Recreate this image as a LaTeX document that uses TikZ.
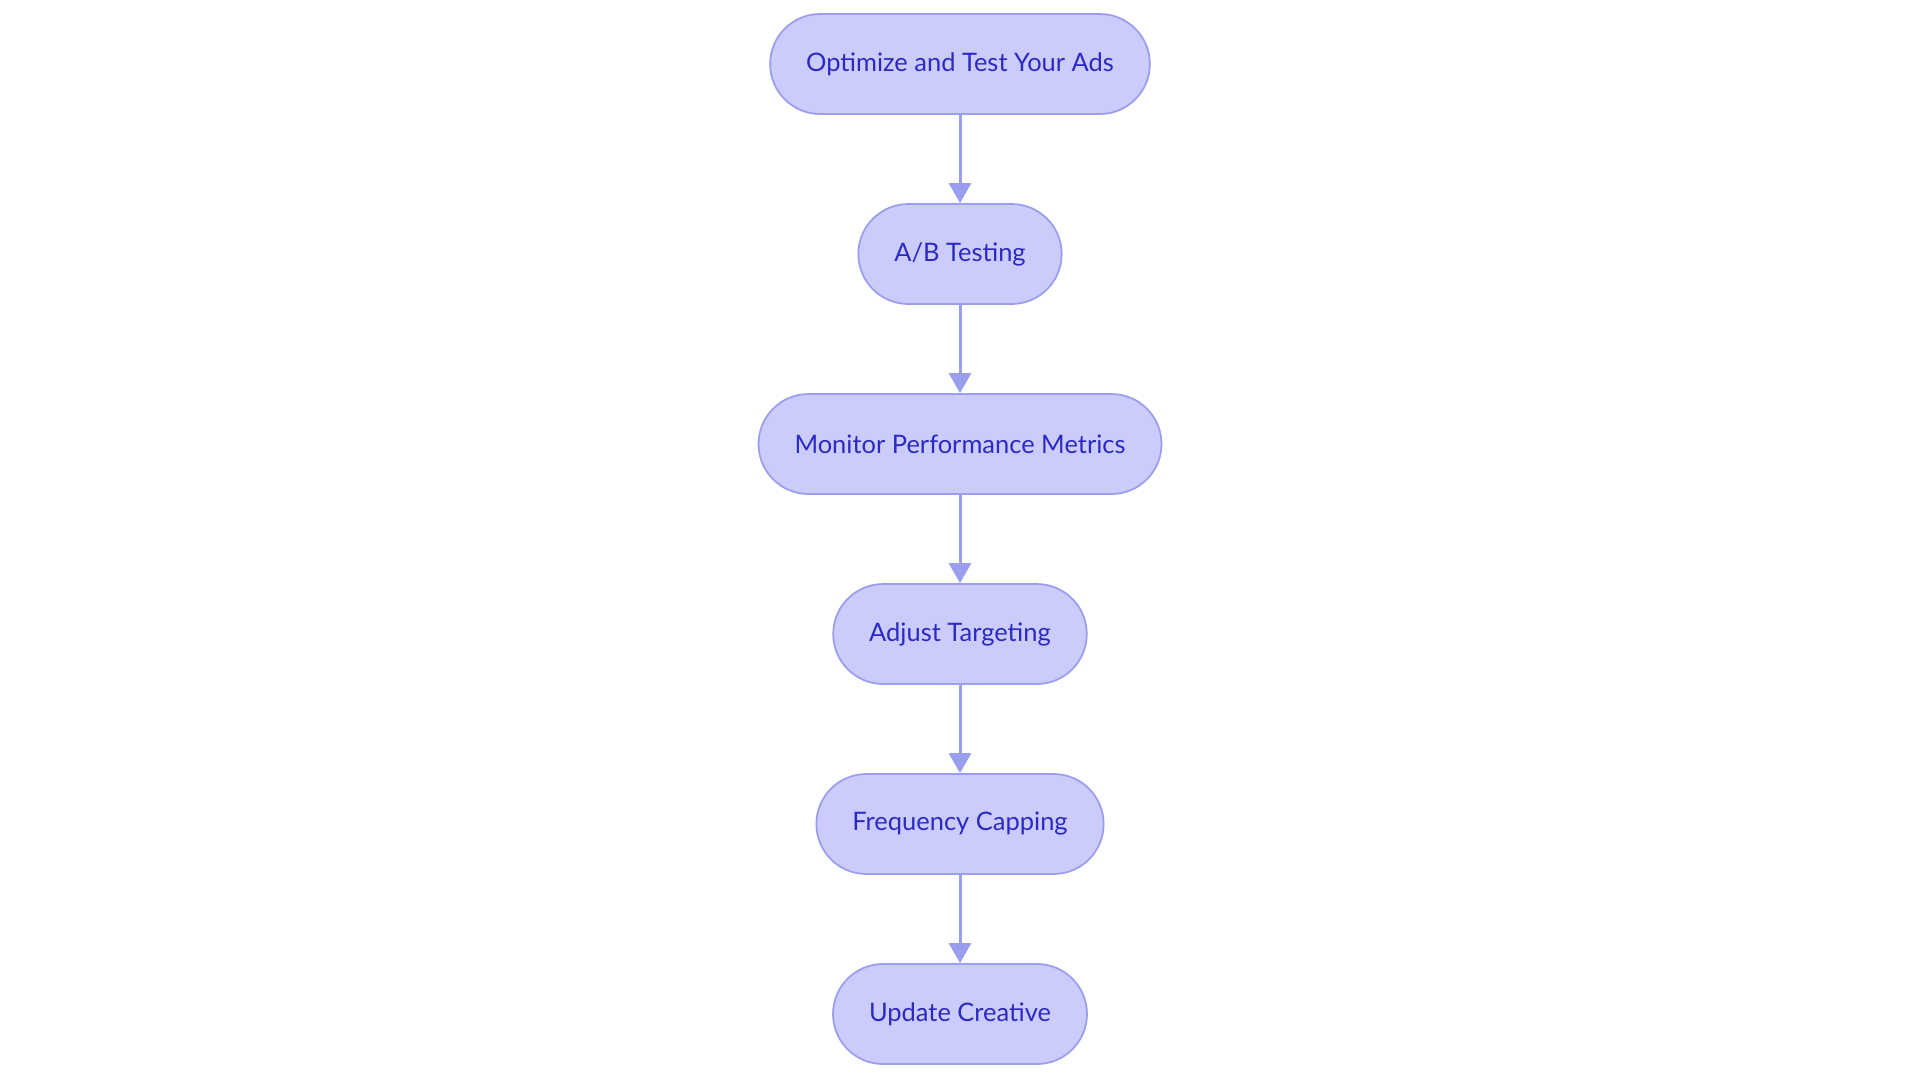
\documentclass[tikz,border=0pt]{standalone}
\usepackage{fontspec}
\setmainfont{Lato}
\usetikzlibrary{arrows.meta, positioning}
\definecolor{stepfill}{HTML}{CBCCFC}
\definecolor{stepline}{HTML}{9A9EEE}
\definecolor{steptext}{HTML}{2B2BC4}

\begin{document}
\begin{tikzpicture}[
    x=0.02cm, y=-0.02cm,
    stage/.style={rectangle, draw=stepline, fill=stepfill, line width=1pt, rounded corners=1cm,
        minimum height=2cm, inner xsep=0.72cm, text=steptext, font=\fontsize{14.5}{16}\selectfont},
    arrow/.style={-{Triangle[length=0.4cm, width=0.44cm]}, stepline, line width=1.7pt}
]
    \useasboundingbox (0,0) rectangle (1920,1083);
    % Steps
    \node[stage] (opt) at (960,64) {Optimize and Test Your Ads};
    \node[stage] (ab) at (960,254) {A/B Testing};
    \node[stage] (mon) at (960,444) {Monitor Performance Metrics};
    \node[stage] (adj) at (960,634) {Adjust Targeting};
    \node[stage] (freq) at (960,824) {Frequency Capping};
    \node[stage] (upd) at (960,1014) {Update Creative};

    % Connections
    \draw[arrow] (opt) -- (ab);
    \draw[arrow] (ab) -- (mon);
    \draw[arrow] (mon) -- (adj);
    \draw[arrow] (adj) -- (freq);
    \draw[arrow] (freq) -- (upd);
\end{tikzpicture}
\end{document}
